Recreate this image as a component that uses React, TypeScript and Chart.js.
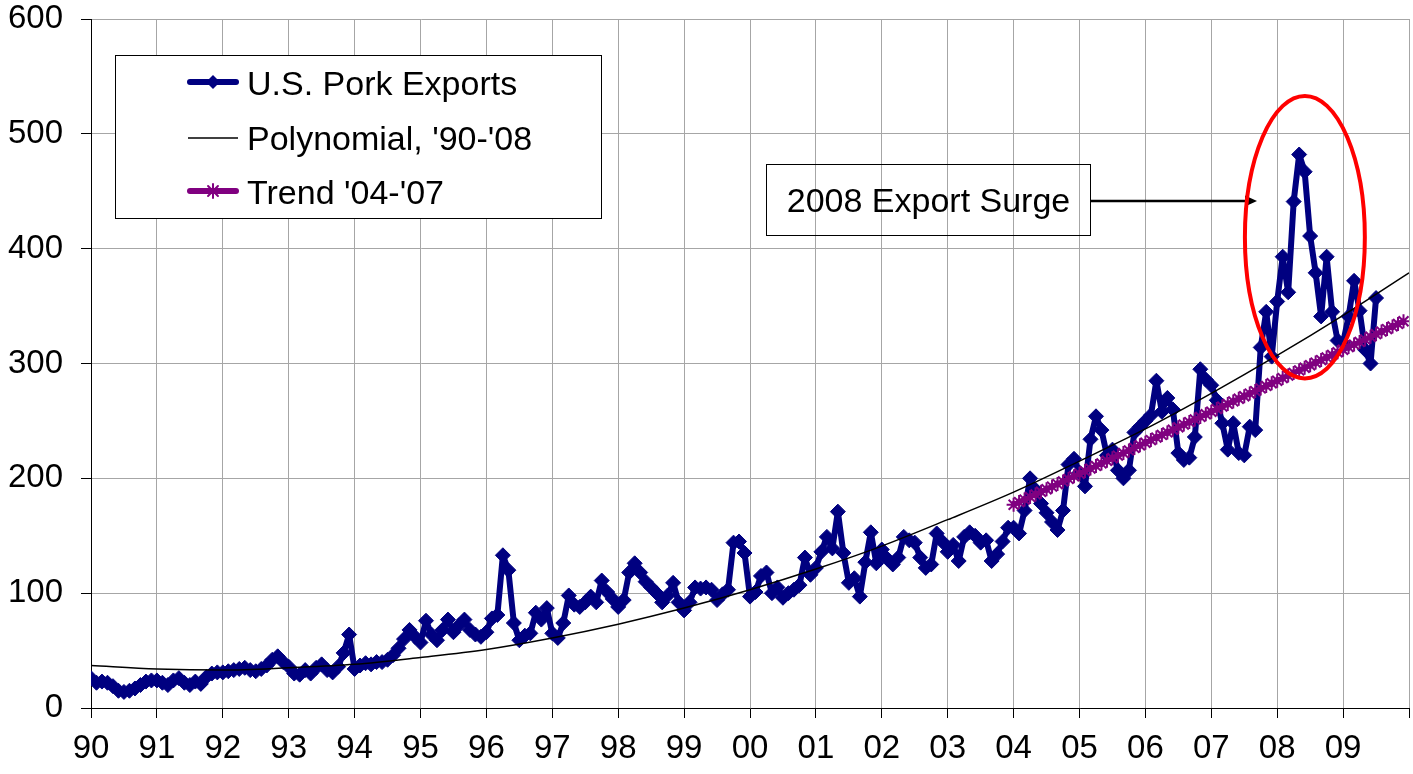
import React, { useEffect, useRef } from 'react';
import { Chart, registerables } from 'chart.js';

Chart.register(...registerables);

const FONT = '"Liberation Sans", Arial, Helvetica, sans-serif';

// X axis tick labels (one per year, 1990..2009)
const yearLabels = ['90', '91', '92', '93', '94', '95', '96', '97', '98', '99', '00', '01', '02', '03', '04', '05', '06', '07', '08', '09'];
const firstYear = 1990;
const lastYear = 2010;

// U.S. Pork Exports, monthly, Jan 1990 .. Jul 2009
const porkExports = [
  26, 22, 23, 22, 19, 15, 14, 15, 17, 20, 23, 24, // 1990
  24, 22, 20, 24, 26, 22, 20, 23, 21, 27, 30, 31, // 1991
  31, 32, 33, 34, 35, 33, 32, 34, 37, 42, 45, 40, // 1992
  36, 30, 29, 33, 30, 35, 38, 33, 31, 36, 48, 64, // 1993
  34, 37, 39, 38, 40, 40, 42, 46, 52, 60, 68, 62, // 1994
  57, 76, 64, 59, 68, 77, 66, 72, 77, 68, 64, 62, // 1995
  66, 78, 81, 133, 120, 74, 59, 63, 65, 83, 77, 87, // 1996
  65, 61, 74, 98, 90, 88, 92, 97, 92, 111, 101, 95, // 1997
  88, 94, 118, 126, 118, 110, 105, 100, 92, 98, 109, 92, // 1998
  85, 92, 105, 104, 105, 103, 94, 99, 103, 144, 145, 135, // 1999
  97, 101, 115, 118, 100, 105, 96, 100, 103, 107, 131, 116, // 2000
  122, 136, 149, 139, 171, 135, 109, 113, 97, 127, 153, 126, // 2001
  138, 130, 125, 131, 149, 146, 144, 131, 122, 125, 152, 145, // 2002
  136, 142, 128, 149, 153, 150, 144, 146, 128, 134, 145, 157, // 2003
  157, 152, 172, 200, 190, 178, 170, 162, 155, 172, 212, 217, // 2004
  205, 193, 234, 254, 242, 220, 225, 207, 200, 207, 240, 245, // 2005
  250, 255, 285, 258, 270, 260, 222, 216, 218, 236, 295, 286, // 2006
  281, 268, 248, 225, 248, 222, 220, 245, 242, 314, 345, 306, // 2007
  354, 393, 362, 441, 482, 467, 411, 379, 341, 393, 345, 320, // 2008
  318, 341, 372, 346, 312, 300, 357, // 2009
];

// Polynomial trend '90-'08, read at each January 1990..2010
const polynomialByYear = [37, 34, 33, 35, 38, 44, 51, 61, 73, 87, 103, 121, 141, 164, 188, 215, 243, 274, 307, 342, 379];

// Trend '04-'07, monthly Jan 2004 .. Dec 2009
const trendStartYear = 2004;
const trend0407 = [
  177.0, 179.3, 181.5, 183.8, 186.0, 188.3, 190.5, 192.8, 195.0, 197.3, 199.5, 201.8,
  204.0, 206.3, 208.5, 210.8, 213.0, 215.3, 217.5, 219.8, 222.0, 224.3, 226.5, 228.8,
  231.0, 233.3, 235.5, 237.8, 240.0, 242.3, 244.5, 246.8, 249.0, 251.3, 253.5, 255.8,
  258.0, 260.3, 262.5, 264.8, 267.0, 269.3, 271.5, 273.8, 276.0, 278.3, 280.5, 282.8,
  285.0, 287.3, 289.5, 291.8, 294.0, 296.3, 298.5, 300.8, 303.0, 305.3, 307.5, 309.8,
  312.0, 314.3, 316.5, 318.8, 321.0, 323.3, 325.5, 327.8, 330.0, 332.3, 334.5, 336.8,
];

const legendItems = ['U.S. Pork Exports', "Polynomial, '90-'08", "Trend '04-'07"];
const annotationText = '2008 Export Surge';

const NAVY = '#000080';
const PURPLE = '#800080';
const GRID = '#a6a6a6';

function drawDiamond(ctx: CanvasRenderingContext2D, x: number, y: number, r: number, color: string) {
  ctx.beginPath();
  ctx.moveTo(x, y - r);
  ctx.lineTo(x + r, y);
  ctx.lineTo(x, y + r);
  ctx.lineTo(x - r, y);
  ctx.closePath();
  ctx.fillStyle = color;
  ctx.fill();
}

function drawStar(ctx: CanvasRenderingContext2D, x: number, y: number, r: number, color: string) {
  const d = r * Math.SQRT1_2;
  ctx.beginPath();
  ctx.moveTo(x, y - r); ctx.lineTo(x, y + r);
  ctx.moveTo(x - r, y); ctx.lineTo(x + r, y);
  ctx.moveTo(x - d, y - d); ctx.lineTo(x + d, y + d);
  ctx.moveTo(x - d, y + d); ctx.lineTo(x + d, y - d);
  ctx.strokeStyle = color;
  ctx.lineWidth = 2;
  ctx.stroke();
}

export default function App() {
  const ref = useRef<HTMLCanvasElement>(null);

  useEffect(() => {
    document.body.style.margin = '0';
    const canvas = ref.current;
    if (!canvas) return;

    const exportsPts = porkExports.map((v, i) => ({ x: firstYear + i / 12, y: v }));
    const polyPts = polynomialByYear.map((v, i) => ({ x: firstYear + i, y: v }));
    const trendPts = trend0407.map((v, i) => ({ x: trendStartYear + i / 12, y: v }));

    const overlay = {
      id: 'overlay',
      afterDraw(chart: any) {
        const ctx: CanvasRenderingContext2D = chart.ctx;
        const xs = chart.scales.x;
        const ys = chart.scales.y;
        ctx.save();

        // Legend box
        ctx.fillStyle = '#ffffff';
        ctx.fillRect(115.5, 55.5, 486, 163);
        ctx.strokeStyle = '#000000';
        ctx.lineWidth = 1;
        ctx.strokeRect(115.5, 55.5, 486, 163);

        const lineYs = [82, 138, 191];
        const textYs = [95, 150, 204];
        ctx.lineCap = 'round';
        // row 1
        ctx.beginPath();
        ctx.moveTo(190, lineYs[0]); ctx.lineTo(236, lineYs[0]);
        ctx.strokeStyle = NAVY; ctx.lineWidth = 6; ctx.stroke();
        drawDiamond(ctx, 213, lineYs[0], 7, NAVY);
        // row 2
        ctx.lineCap = 'butt';
        ctx.beginPath();
        ctx.moveTo(188, lineYs[1]); ctx.lineTo(238, lineYs[1]);
        ctx.strokeStyle = '#000'; ctx.lineWidth = 1.5; ctx.stroke();
        // row 3
        ctx.lineCap = 'round';
        ctx.beginPath();
        ctx.moveTo(190, lineYs[2]); ctx.lineTo(236, lineYs[2]);
        ctx.strokeStyle = PURPLE; ctx.lineWidth = 6; ctx.stroke();
        drawStar(ctx, 213, lineYs[2], 7, PURPLE);
        ctx.lineCap = 'butt';

        ctx.fillStyle = '#000';
        ctx.font = `34px ${FONT}`;
        ctx.textAlign = 'left';
        ctx.textBaseline = 'alphabetic';
        legendItems.forEach((t, i) => ctx.fillText(t, 247, textYs[i]));

        // Annotation box (transparent)
        ctx.strokeStyle = '#000';
        ctx.lineWidth = 1;
        ctx.strokeRect(766.5, 164.5, 324, 71);
        ctx.font = `34px ${FONT}`;
        ctx.textAlign = 'center';
        ctx.fillText(annotationText, 928.5, 212);

        // Arrow
        const tipX = 1257;
        const ay = 201;
        ctx.beginPath();
        ctx.moveTo(1091, ay); ctx.lineTo(tipX - 8, ay);
        ctx.lineWidth = 2.5; ctx.strokeStyle = '#000'; ctx.stroke();
        ctx.beginPath();
        ctx.moveTo(tipX, ay);
        ctx.lineTo(tipX - 12, ay - 5.5);
        ctx.lineTo(tipX - 12, ay + 5.5);
        ctx.closePath();
        ctx.fillStyle = '#000';
        ctx.fill();

        // Red ellipse around the 2008 surge
        const cx = xs.getPixelForValue(2008.42);
        const cy = ys.getPixelForValue(410);
        const rx = Math.abs(xs.getPixelForValue(2008.42 + 0.91) - cx);
        const ry = Math.abs(ys.getPixelForValue(410 + 123) - cy);
        ctx.beginPath();
        ctx.ellipse(cx, cy, rx, ry, 0, 0, Math.PI * 2);
        ctx.strokeStyle = '#ff0000';
        ctx.lineWidth = 4;
        ctx.stroke();

        ctx.restore();
      },
    };

    const chart = new Chart(canvas, {
      type: 'line',
      data: {
        datasets: [
          {
            label: legendItems[2],
            data: trendPts,
            borderColor: PURPLE,
            backgroundColor: PURPLE,
            borderWidth: 5,
            borderJoinStyle: 'round',
            pointStyle: 'star',
            pointRadius: 7,
            pointBorderWidth: 2,
            pointBorderColor: PURPLE,
            order: 0,
          },
          {
            label: legendItems[1],
            data: polyPts,
            borderColor: '#000000',
            borderWidth: 1.5,
            pointRadius: 0,
            cubicInterpolationMode: 'monotone',
            order: 1,
          },
          {
            label: legendItems[0],
            data: exportsPts,
            borderColor: NAVY,
            backgroundColor: NAVY,
            borderWidth: 6,
            borderJoinStyle: 'round',
            pointStyle: 'rectRot',
            pointRadius: 7.5,
            pointBorderWidth: 1,
            pointBorderColor: NAVY,
            order: 2,
          },
        ] as any,
      },
      options: {
        responsive: false,
        animation: false,
        layout: { autoPadding: false, padding: { top: 0, right: 0, left: 0, bottom: 0 } },
        plugins: {
          legend: { display: false },
          tooltip: { enabled: false },
        },
        scales: {
          x: {
            type: 'linear',
            min: firstYear,
            max: lastYear,
            ticks: {
              stepSize: 1,
              autoSkip: false,
              maxRotation: 0,
              minRotation: 0,
              padding: 11,
              color: '#000',
              font: { family: FONT, size: 33 },
              callback: (v: any) => {
                const i = Math.round(Number(v) - firstYear);
                return yearLabels[i] ?? '';
              },
            },
            grid: { color: GRID, lineWidth: 1, tickLength: 10, tickColor: '#000' },
            border: { color: '#000', width: 1 },
            afterFit: (s: any) => {
              s.height = 66;
              s.paddingLeft = 0;
              s.paddingRight = 4;
            },
          },
          y: {
            min: 0,
            max: 600,
            ticks: {
              stepSize: 100,
              padding: 18,
              color: '#000',
              font: { family: FONT, size: 33 },
            },
            grid: { color: GRID, lineWidth: 1, tickLength: 10, tickColor: '#000' },
            border: { color: '#000', width: 1 },
            afterFit: (s: any) => {
              s.width = 91;
              s.paddingTop = 19;
              s.paddingBottom = 0;
            },
          },
        },
      } as any,
      plugins: [overlay],
    });

    return () => chart.destroy();
  }, []);

  return <canvas ref={ref} width={1413} height={774} style={{ display: 'block' }} />;
}
